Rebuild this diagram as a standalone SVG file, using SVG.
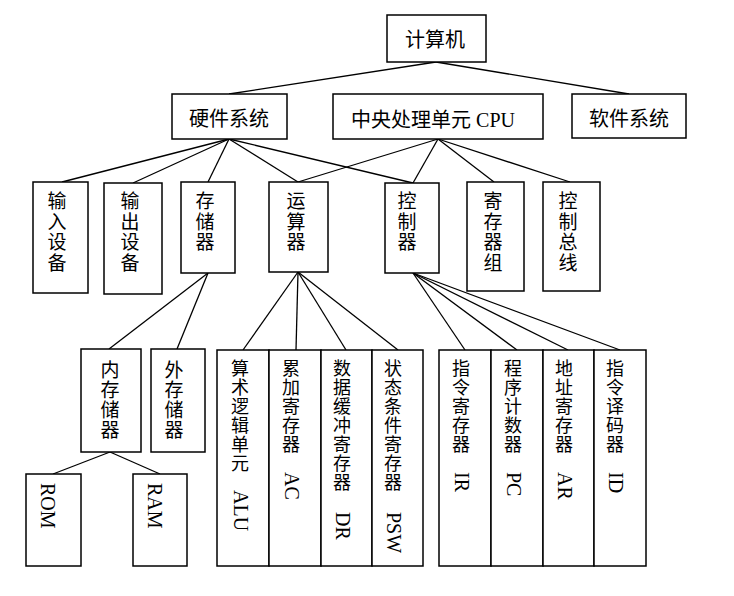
<svg xmlns="http://www.w3.org/2000/svg" width="734" height="596" viewBox="0 0 734 596">
<style>
.b{fill:#fff;stroke:#000;stroke-width:1.5}
.t{font-family:"Liberation Serif","Noto Sans CJK SC",serif;font-size:20px;fill:#000;text-anchor:middle}
.v{font-family:"Liberation Serif","Noto Sans CJK SC",serif;font-size:19px;fill:#000;text-anchor:middle}
.s{font-family:"Liberation Serif","Noto Sans CJK SC",serif;font-size:18px;fill:#000;text-anchor:middle}
.r{font-family:"Liberation Serif",serif;font-size:20px;fill:#000}
.c line{stroke:#000;stroke-width:1.3}
</style>
<rect width="734" height="596" fill="#fff"/>
<g class="c" id="connectors">
<line x1="436" y1="62" x2="229" y2="94"/>
<line x1="436" y1="62" x2="629" y2="94"/>
<line x1="229" y1="139" x2="62" y2="182"/>
<line x1="229" y1="139" x2="133" y2="183"/>
<line x1="229" y1="139" x2="208" y2="182"/>
<line x1="229" y1="139" x2="298" y2="182"/>
<line x1="229" y1="139" x2="413" y2="183"/>
<line x1="438" y1="139" x2="298" y2="182"/>
<line x1="438" y1="139" x2="413" y2="183"/>
<line x1="438" y1="139" x2="494" y2="182"/>
<line x1="438" y1="139" x2="570" y2="182"/>
<line x1="208" y1="273" x2="109" y2="349"/>
<line x1="208" y1="273" x2="177" y2="349"/>
<line x1="110" y1="452" x2="53" y2="474"/>
<line x1="110" y1="452" x2="160" y2="474"/>
<line x1="298" y1="272" x2="243" y2="350"/>
<line x1="298" y1="272" x2="296" y2="350"/>
<line x1="298" y1="272" x2="346" y2="350"/>
<line x1="298" y1="272" x2="398" y2="350"/>
<line x1="413" y1="273" x2="465" y2="350"/>
<line x1="413" y1="273" x2="517" y2="350"/>
<line x1="413" y1="273" x2="568" y2="350"/>
<line x1="413" y1="273" x2="620" y2="350"/>
</g>
<g id="computer"><rect class="b" x="387" y="15" width="99" height="47"/><text class="t" x="435" y="47">计算机</text></g>
<g id="hardware"><rect class="b" x="172" y="94" width="115" height="45"/><text class="t" x="229" y="126">硬件系统</text></g>
<g id="cpu"><rect class="b" x="333" y="94" width="210" height="45"/><text class="t" x="433" y="127">中央处理单元 CPU</text></g>
<g id="software"><rect class="b" x="572" y="94" width="114" height="44"/><text class="t" x="629" y="126">软件系统</text></g>

<g id="input"><rect class="b" x="33" y="182" width="55" height="111"/><text class="v" x="57" y="208"><tspan x="57">输</tspan><tspan x="57" dy="20.5">入</tspan><tspan x="57" dy="20.5">设</tspan><tspan x="57" dy="20.5">备</tspan></text></g>
<g id="output"><rect class="b" x="104" y="183" width="58" height="111"/><text class="v" x="130" y="208"><tspan x="130">输</tspan><tspan x="130" dy="20.5">出</tspan><tspan x="130" dy="20.5">设</tspan><tspan x="130" dy="20.5">备</tspan></text></g>
<g id="storage"><rect class="b" x="181" y="182" width="54" height="91"/><text class="v" x="205" y="208"><tspan x="205">存</tspan><tspan x="205" dy="20.5">储</tspan><tspan x="205" dy="20.5">器</tspan></text></g>
<g id="alu-unit"><rect class="b" x="269" y="182" width="59" height="90"/><text class="v" x="296" y="208"><tspan x="296">运</tspan><tspan x="296" dy="20.5">算</tspan><tspan x="296" dy="20.5">器</tspan></text></g>
<g id="controller"><rect class="b" x="385" y="183" width="54" height="90"/><text class="v" x="407" y="208"><tspan x="407">控</tspan><tspan x="407" dy="20.5">制</tspan><tspan x="407" dy="20.5">器</tspan></text></g>
<g id="registers"><rect class="b" x="467" y="182" width="57" height="109"/><text class="v" x="493" y="208"><tspan x="493">寄</tspan><tspan x="493" dy="20.5">存</tspan><tspan x="493" dy="20.5">器</tspan><tspan x="493" dy="20.5">组</tspan></text></g>
<g id="control-bus"><rect class="b" x="543" y="182" width="57" height="109"/><text class="v" x="568" y="208"><tspan x="568">控</tspan><tspan x="568" dy="20.5">制</tspan><tspan x="568" dy="20.5">总</tspan><tspan x="568" dy="20.5">线</tspan></text></g>

<g id="internal-memory"><rect class="b" x="81" y="349" width="60" height="103"/><text class="v" x="110" y="377"><tspan x="110">内</tspan><tspan x="110" dy="20">存</tspan><tspan x="110" dy="20">储</tspan><tspan x="110" dy="20">器</tspan></text></g>
<g id="external-memory"><rect class="b" x="151" y="349" width="54" height="103"/><text class="v" x="174" y="377"><tspan x="174">外</tspan><tspan x="174" dy="20">存</tspan><tspan x="174" dy="20">储</tspan><tspan x="174" dy="20">器</tspan></text></g>
<g id="rom"><rect class="b" x="26" y="474" width="55" height="92"/><text class="r" transform="translate(40.5,483) rotate(90)">ROM</text></g>
<g id="ram"><rect class="b" x="133" y="474" width="54" height="92"/><text class="r" transform="translate(147.5,483) rotate(90)">RAM</text></g>

<g id="alu"><rect class="b" x="217" y="350" width="52" height="216"/><text class="s" x="240" y="374.5"><tspan x="240">算</tspan><tspan x="240" dy="19">术</tspan><tspan x="240" dy="19">逻</tspan><tspan x="240" dy="19">辑</tspan><tspan x="240" dy="19">单</tspan><tspan x="240" dy="19">元</tspan></text><text class="r" transform="translate(233.5,490) rotate(90)">ALU</text></g>
<g id="ac"><rect class="b" x="269" y="350" width="52" height="216"/><text class="s" x="291" y="374.5"><tspan x="291">累</tspan><tspan x="291" dy="19">加</tspan><tspan x="291" dy="19">寄</tspan><tspan x="291" dy="19">存</tspan><tspan x="291" dy="19">器</tspan></text><text class="r" transform="translate(284.5,472) rotate(90)">AC</text></g>
<g id="dr"><rect class="b" x="321" y="350" width="51" height="216"/><text class="s" x="342" y="374.5"><tspan x="342">数</tspan><tspan x="342" dy="19">据</tspan><tspan x="342" dy="19">缓</tspan><tspan x="342" dy="19">冲</tspan><tspan x="342" dy="19">寄</tspan><tspan x="342" dy="19">存</tspan><tspan x="342" dy="19">器</tspan></text><text class="r" transform="translate(335.5,512) rotate(90)">DR</text></g>
<g id="psw"><rect class="b" x="372" y="350" width="51" height="216"/><text class="s" x="393" y="374.5"><tspan x="393">状</tspan><tspan x="393" dy="19">态</tspan><tspan x="393" dy="19">条</tspan><tspan x="393" dy="19">件</tspan><tspan x="393" dy="19">寄</tspan><tspan x="393" dy="19">存</tspan><tspan x="393" dy="19">器</tspan></text><text class="r" transform="translate(386.5,512) rotate(90)">PSW</text></g>

<g id="ir"><rect class="b" x="439" y="350" width="52" height="216"/><text class="s" x="461" y="374.5"><tspan x="461">指</tspan><tspan x="461" dy="19">令</tspan><tspan x="461" dy="19">寄</tspan><tspan x="461" dy="19">存</tspan><tspan x="461" dy="19">器</tspan></text><text class="r" transform="translate(454.5,472) rotate(90)">IR</text></g>
<g id="pc"><rect class="b" x="491" y="350" width="52" height="216"/><text class="s" x="513" y="374.5"><tspan x="513">程</tspan><tspan x="513" dy="19">序</tspan><tspan x="513" dy="19">计</tspan><tspan x="513" dy="19">数</tspan><tspan x="513" dy="19">器</tspan></text><text class="r" transform="translate(506.5,472) rotate(90)">PC</text></g>
<g id="ar"><rect class="b" x="543" y="350" width="51" height="216"/><text class="s" x="564" y="374.5"><tspan x="564">地</tspan><tspan x="564" dy="19">址</tspan><tspan x="564" dy="19">寄</tspan><tspan x="564" dy="19">存</tspan><tspan x="564" dy="19">器</tspan></text><text class="r" transform="translate(557.5,472) rotate(90)">AR</text></g>
<g id="id"><rect class="b" x="594" y="350" width="52" height="216"/><text class="s" x="615" y="374.5"><tspan x="615">指</tspan><tspan x="615" dy="19">令</tspan><tspan x="615" dy="19">译</tspan><tspan x="615" dy="19">码</tspan><tspan x="615" dy="19">器</tspan></text><text class="r" transform="translate(608.5,472) rotate(90)">ID</text></g>
</svg>
